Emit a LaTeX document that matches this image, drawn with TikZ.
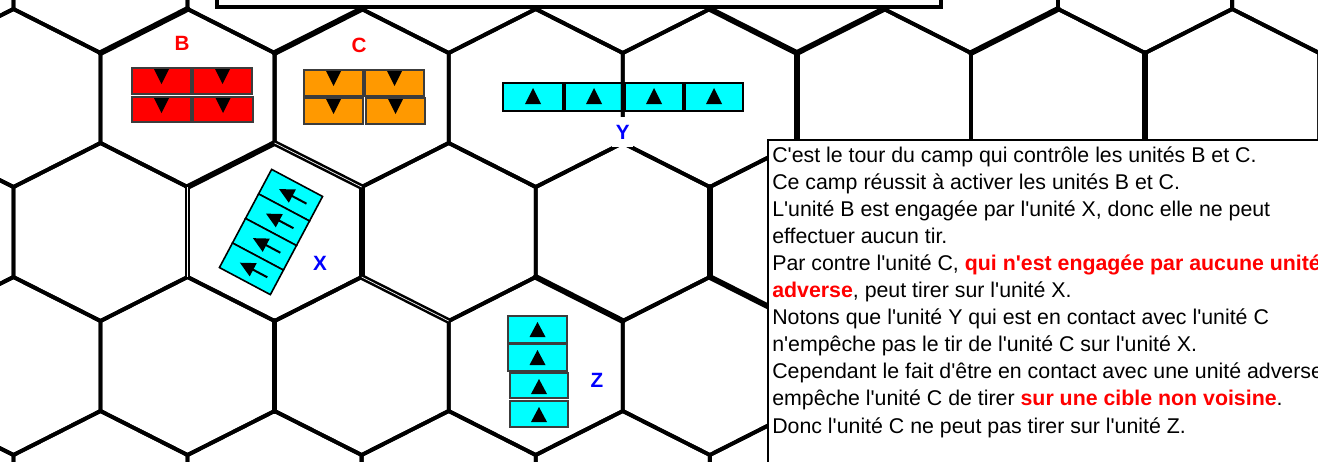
\documentclass[tikz,border=0pt]{standalone}
\usepackage{fontspec}
\newfontfamily\txt{Liberation Sans}
\definecolor{ured}{RGB}{255,0,0}
\definecolor{uorange}{RGB}{255,153,0}
\definecolor{ucyan}{RGB}{0,255,255}
\definecolor{ublue}{RGB}{0,0,255}
\definecolor{bordergray}{RGB}{60,60,60}
\begin{document}
\begin{tikzpicture}[x=0.75pt,y=-0.75pt,
  hexline/.style={line width=2.9pt,line join=round,line cap=round},
  heavyline/.style={line width=4.3pt,line cap=round},
  dblline/.style={draw=black,double=white,double distance=0.5pt,line width=1.9pt},
  lbl/.style={font=\txt\bfseries\fontsize{15.5}{18}\selectfont,inner sep=0pt},
  redlbl/.style={lbl,text=ured},
  bluelbl/.style={lbl,text=ublue},
  blkgray/.style={draw=bordergray,line width=0.9pt},
  blkblack/.style={draw=black,line width=1.2pt},
  bodytext/.style={font=\txt\fontsize{16}{19}\selectfont,anchor=base west,inner sep=0pt}
]
\useasboundingbox (0,0) rectangle (1318,461);
\clip (0,0) rectangle (1318,461);
\fill[white] (0,0) rectangle (1318,461);

% ---------- units ----------
% B (red, 2x2, triangles down)
\foreach \xa/\xb/\ya/\yb in {132/191/68/94,193/252/68/94,132/191/97/122,193/253/97/122}{
  \filldraw[blkgray,fill=ured] (\xa,\ya) rectangle (\xb,\yb);
  \fill[black] ({(\xa+\xb)/2-7.5},\ya+1) -- ({(\xa+\xb)/2+7.5},\ya+1) -- ({(\xa+\xb)/2},\ya+16) -- cycle;
}
% C (orange, 2x2, triangles down)
\foreach \xa/\xb/\ya/\yb in {304/363/70/96,365/424/70/96,304/363/98/124,366/425/98/124}{
  \filldraw[blkgray,fill=uorange] (\xa,\ya) rectangle (\xb,\yb);
  \fill[black] ({(\xa+\xb)/2-7.5},\ya+1) -- ({(\xa+\xb)/2+7.5},\ya+1) -- ({(\xa+\xb)/2},\ya+16) -- cycle;
}
% Y (cyan, 4 in a row, triangles up)
\foreach \xa/\xb in {503/563,565/623,625/683,685/743}{
  \filldraw[blkblack,fill=ucyan] (\xa,83) rectangle (\xb,111);
  \fill[black] ({(\xa+\xb)/2-8},104) -- ({(\xa+\xb)/2+8},104) -- ({(\xa+\xb)/2},88) -- cycle;
}
% Z (cyan, 4 stacked, triangles up)
\foreach \xa/\xb/\ya/\yb in {508/567/316/343,508/567/344/371,510/568/373/398,510/568/401/427}{
  \filldraw[blkgray,fill=ucyan] (\xa,\ya) rectangle (\xb,\yb);
  \fill[black] ({(\xa+\xb)/2-8},\ya+21) -- ({(\xa+\xb)/2+8},\ya+21) -- ({(\xa+\xb)/2},\ya+6) -- cycle;
}
% X (cyan, rotated stack, arrows)
\begin{scope}[shift={(271,232)},rotate=-28]
  \foreach \yy in {-41.7,-13.9,13.9,41.7}{
    \filldraw[blkblack,fill=ucyan] (-28.85,\yy-13.9) rectangle (28.85,\yy+13.9);
    \draw[line width=1.5pt] (0,\yy) -- (18,\yy);
    \fill[black] (-13,\yy) -- (2,\yy-7.5) -- (2,\yy+7.5) -- cycle;
  }
\end{scope}

% ---------- hex grid ----------
\foreach \r in {0,...,4}{
  \foreach \k in {-1,...,8}{
    \pgfmathsetmacro\cy{-36+134*\r}
    \pgfmathsetmacro\cx{ifthenelse(mod(\r,2)==1,13.45,100.5)+174.1*\k}
    \draw[hexline] (\cx,\cy-89) -- (\cx+87.05,\cy-45) -- (\cx+87.05,\cy+45)
      -- (\cx,\cy+89) -- (\cx-87.05,\cy+45) -- (\cx-87.05,\cy-45) -- cycle;
  }
}
% heavier edges
\draw[heavyline] (100.5,53) -- (187.55,9);
\draw[heavyline] (274.6,53) -- (361.65,9);
\draw[heavyline] (709.85,9) -- (796.9,53) -- (883.95,9);
\draw[heavyline] (796.9,53) -- (796.9,143);
\draw[heavyline] (971,53) -- (1058.05,9);
\draw[heavyline] (1145.1,53) -- (1145.1,143);
\draw[heavyline] (187.55,187) -- (274.6,143);
\draw[heavyline] (361.65,187) -- (361.65,277);
\draw[heavyline] (535.75,277) -- (622.8,321);
\draw[heavyline] (709.85,187) -- (709.85,277);
\draw[heavyline] (709.85,277) -- (796.9,321);
\draw[heavyline] (274.6,321) -- (274.6,411);
% double edges
\draw[dblline] (187.55,187) -- (187.55,277);
\draw[dblline] (274.6,143) -- (361.65,187);
\draw[dblline] (361.65,277) -- (448.7,321);

% ---------- top frame ----------
\draw[line width=3pt,fill=white] (217,-20) rectangle (941,7);

% ---------- labels ----------
\node[redlbl] (labB) at (182,43) {B};
\node[redlbl] (labC) at (359,45) {C};
\node[bluelbl] (labX) at (320,263) {X};
\node[bluelbl,fill=white,minimum width=16pt,minimum height=22pt] (labY) at (622.8,132) {Y};
\node[bluelbl] (labZ) at (597,380) {Z};

% ---------- text box ----------
\draw[line width=1.1pt,fill=white] (768,140) rectangle (1340,480);
\node[bodytext] (t1) at (772,162) {C'est le tour du camp qui contrôle les unités B et C.};
\node[bodytext] (t2) at (772,189.1) {Ce camp réussit à activer les unités B et C.};
\node[bodytext] (t3) at (772,216.2) {L'unité B est engagée par l'unité X, donc elle ne peut};
\node[bodytext] (t4) at (772,243.3) {effectuer aucun tir.};
\node[bodytext] (t5) at (772,270.4) {Par contre l'unité C, {\bfseries\color{ured}qui n'est engagée par aucune unité}};
\node[bodytext] (t6) at (772,297.5) {{\bfseries\color{ured}adverse}, peut tirer sur l'unité X.};
\node[bodytext] (t7) at (772,324.6) {Notons que l'unité Y qui est en contact avec l'unité C};
\node[bodytext] (t8) at (772,351.7) {n'empêche pas le tir de l'unité C sur l'unité X.};
\node[bodytext] (t9) at (772,378.8) {Cependant le fait d'être en contact avec une unité adverse};
\node[bodytext] (t10) at (772,405.9) {empêche l'unité C de tirer {\bfseries\color{ured}sur une cible non voisine}.};
\node[bodytext] (t11) at (772,433) {Donc l'unité C ne peut pas tirer sur l'unité Z.};
\end{tikzpicture}
\end{document}
